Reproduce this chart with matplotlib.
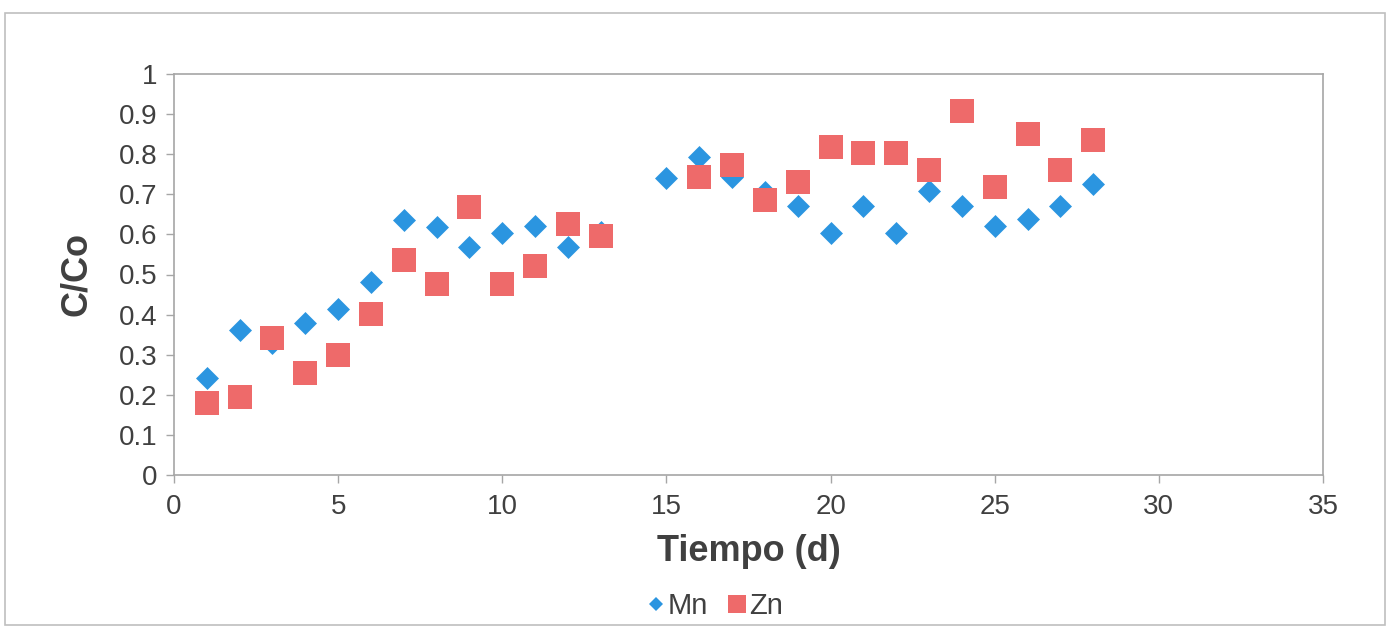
import matplotlib
matplotlib.use("Agg")
import matplotlib.pyplot as plt
from matplotlib.patches import Rectangle
from matplotlib.lines import Line2D

plt.rcParams['font.family'] = ['Liberation Sans', 'DejaVu Sans']

# Data
mn_days = [1, 2, 3, 4, 5, 6, 7, 8, 9, 10, 11, 12, 13,
           15, 16, 17, 18, 19, 20, 21, 22, 23, 24, 25, 26, 27, 28]
mn_vals = [0.241, 0.362, 0.328, 0.378, 0.413, 0.481, 0.636, 0.619, 0.568, 0.603, 0.621, 0.568, 0.605,
           0.740, 0.794, 0.743, 0.705, 0.672, 0.604, 0.672, 0.604, 0.707, 0.672, 0.621, 0.638, 0.672, 0.726]

zn_days = [1, 2, 3, 4, 5, 6, 7, 8, 9, 10, 11, 12, 13,
           16, 17, 18, 19, 20, 21, 22, 23, 24, 25, 26, 27, 28]
zn_vals = [0.180, 0.194, 0.342, 0.254, 0.299, 0.401, 0.536, 0.476, 0.669, 0.476, 0.521, 0.626, 0.596,
           0.744, 0.773, 0.686, 0.730, 0.817, 0.804, 0.804, 0.761, 0.908, 0.717, 0.850, 0.761, 0.835]

x_ticks = [0, 5, 10, 15, 20, 25, 30, 35]
y_ticks = [0, 0.1, 0.2, 0.3, 0.4, 0.5, 0.6, 0.7, 0.8, 0.9, 1.0]
y_tick_labels = ['0', '0.1', '0.2', '0.3', '0.4', '0.5', '0.6', '0.7', '0.8', '0.9', '1']

BLUE = '#2B95E0'
RED = '#EE6A6A'
GRID = '#A6A6A6'
TXT = '#404040'

W, H = 1391, 628
fig = plt.figure(figsize=(W / 100, H / 100), dpi=100)
fig.patch.set_facecolor('white')

# outer chart border
fig.add_artist(Rectangle((5 / W, 1 - 625 / H), 1380 / W, 612 / H, transform=fig.transFigure,
                         fill=False, edgecolor='#BFBFBF', linewidth=1.2))

ax = fig.add_axes([174 / W, 1 - 475 / H, (1323 - 174) / W, (475 - 74) / H])
ax.scatter(mn_days, mn_vals, marker='D', s=11.7 ** 2, color=BLUE, linewidths=0, zorder=3, label='Mn')
ax.scatter(zn_days, zn_vals, marker='s', s=16.6 ** 2, color=RED, linewidths=0, zorder=4, label='Zn')

ax.set_xlim(0, 35)
ax.set_ylim(0, 1)
ax.set_xticks(x_ticks)
ax.set_xticklabels([str(t) for t in x_ticks])
ax.set_yticks(y_ticks)
ax.set_yticklabels(y_tick_labels)

for s in ax.spines.values():
    s.set_color(GRID)
    s.set_linewidth(1.2)
ax.tick_params(axis='both', colors=GRID, labelcolor=TXT, labelsize=20, length=6, width=1.0, direction='out')
ax.tick_params(axis='x', pad=8)
ax.tick_params(axis='y', pad=6)

ax.set_xlabel('Tiempo (d)', fontsize=26, fontweight='bold', color=TXT, labelpad=10)
ax.set_ylabel('C/Co', fontsize=26, fontweight='bold', color=TXT, labelpad=18)

handles = [Line2D([], [], marker='D', linestyle='none', color=BLUE, markersize=7.6, markeredgewidth=0),
           Line2D([], [], marker='s', linestyle='none', color=RED, markersize=13, markeredgewidth=0)]
leg = fig.legend(handles, ['Mn', 'Zn'], loc='center', bbox_to_anchor=(715 / W, 1 - 606 / H),
                 ncol=2, frameon=False, fontsize=21, handlelength=0.6, handletextpad=0.1,
                 columnspacing=0.7, borderpad=0)
for t in leg.get_texts():
    t.set_color(TXT)

fig.savefig('out.png', dpi=100, facecolor='white')
